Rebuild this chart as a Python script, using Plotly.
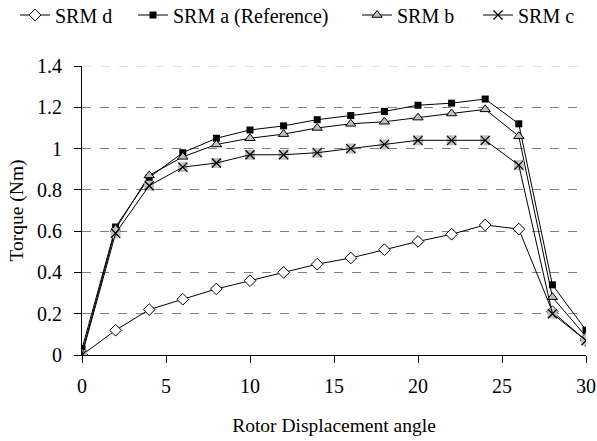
import plotly.graph_objects as go

angle = [0, 2, 4, 6, 8, 10, 12, 14, 16, 18, 20, 22, 24, 26, 28, 30]
srm_d = [0.0, 0.12, 0.22, 0.27, 0.32, 0.36, 0.40, 0.44, 0.47, 0.51, 0.55, 0.585, 0.63, 0.61, 0.21, 0.07]
srm_a = [0.03, 0.62, 0.86, 0.98, 1.05, 1.09, 1.11, 1.14, 1.16, 1.18, 1.21, 1.22, 1.24, 1.12, 0.34, 0.12]
srm_b = [0.01, 0.61, 0.87, 0.96, 1.02, 1.05, 1.07, 1.10, 1.12, 1.13, 1.15, 1.17, 1.19, 1.06, 0.28, 0.09]
srm_c = [0.0, 0.59, 0.82, 0.91, 0.93, 0.97, 0.97, 0.98, 1.0, 1.02, 1.04, 1.04, 1.04, 0.92, 0.20, 0.07]

names = ["SRM d", "SRM a (Reference)", "SRM b", "SRM c"]
y_ticks = [0, 0.2, 0.4, 0.6, 0.8, 1.0, 1.2, 1.4]
y_labels = ["0", "0.2", "0.4", "0.6", "0.8", "1", "1.2", "1.4"]
x_ticks = [0, 5, 10, 15, 20, 25, 30]

FONT = "Liberation Serif, Times New Roman, serif"
line = dict(color="black", width=1)
W, H = 597, 441
legend_px = [15, 133, 357, 478]
legend_center_px = 15

fig = go.Figure()
fig.add_trace(go.Scatter(x=angle, y=srm_d, name=names[0], mode="lines+markers", line=line, legend="legend",
                         marker=dict(symbol="diamond", size=9, color="white", line=dict(color="black", width=1))))
fig.add_trace(go.Scatter(x=angle, y=srm_a, name=names[1], mode="lines+markers", line=line, legend="legend2",
                         marker=dict(symbol="square", size=7, color="black", line=dict(color="black", width=0))))
fig.add_trace(go.Scatter(x=angle, y=srm_b, name=names[2], mode="lines+markers", line=line, legend="legend3",
                         marker=dict(symbol="triangle-up", size=9, color="#c0c0c0", line=dict(color="black", width=1))))
fig.add_trace(go.Scatter(x=angle, y=srm_c, name=names[3] + "_bg", mode="markers", showlegend=False,
                         marker=dict(symbol="square", size=10, color="#c0c0c0", line=dict(width=0))))
fig.add_trace(go.Scatter(x=angle, y=srm_c, name=names[3], mode="lines+markers", line=line, legend="legend4",
                         marker=dict(symbol="x-thin-open", size=9, color="black", line=dict(color="black", width=1.2))))

def leg(px):
    return dict(orientation="h", x=px / W, xanchor="left", y=1 - legend_center_px / H, yanchor="middle",
                xref="container", yref="container",
                font=dict(family=FONT, size=20), itemwidth=30, bgcolor="rgba(0,0,0,0)")

# lighter dashed top gridline, as in the reference
fig.add_shape(type="line", xref="paper", x0=0.002, x1=1, yref="y", y0=y_ticks[-1], y1=y_ticks[-1],
              line=dict(color="white", width=1.5), layer="above")
fig.add_shape(type="line", xref="paper", x0=0.002, x1=1, yref="y", y0=y_ticks[-1], y1=y_ticks[-1],
              line=dict(color="#c8c8c8", width=1, dash="dash"), layer="above")

fig.update_layout(
    width=W, height=H,
    margin=dict(l=82, r=11, t=66, b=86, autoexpand=False),
    paper_bgcolor="white", plot_bgcolor="white",
    font=dict(family=FONT, size=20, color="black"),
    legend=leg(legend_px[0]), legend2=leg(legend_px[1]),
    legend3=leg(legend_px[2]), legend4=leg(legend_px[3]),
    showlegend=True,
)
fig.update_xaxes(range=[0, 30], tickvals=x_ticks, showgrid=False, zeroline=False,
                 showline=True, linecolor="black", linewidth=1, ticks="outside", ticklen=7, tickcolor="black",
                 ticklabelstandoff=6,
                 title=dict(text="Rotor Displacement angle", font=dict(family=FONT, size=19.5), standoff=22))
fig.update_yaxes(range=[0, 1.4], tickvals=y_ticks, ticktext=y_labels,
                 showgrid=True, gridcolor="#808080", griddash="dash", gridwidth=1, zeroline=False,
                 showline=True, linecolor="black", linewidth=1, ticks="outside", ticklen=7, tickcolor="black",
                 ticklabelstandoff=8,
                 title=dict(text="Torque (Nm)", font=dict(family=FONT, size=19.5), standoff=8))

fig.write_html("out.html")
